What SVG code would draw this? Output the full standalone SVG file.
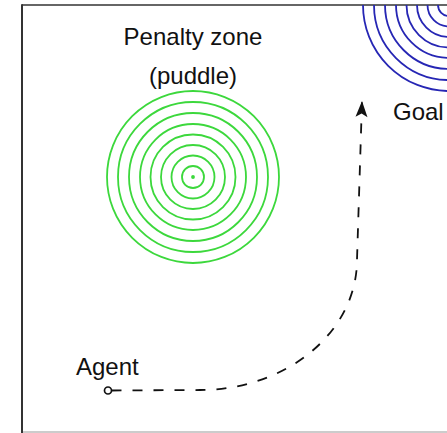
<svg xmlns="http://www.w3.org/2000/svg" width="447" height="433" viewBox="0 0 447 433">
  <style>
    .label { font-family: "Liberation Sans", Arial, sans-serif; font-size: 24px; fill: #111; }
    .puddle circle { fill: none; stroke: #3cd83c; stroke-width: 1.8; }
    .goal circle { fill: none; stroke: #2626b4; stroke-width: 1.8; }
    .path { fill: none; stroke: #111; stroke-width: 1.8; stroke-dasharray: 10 11; }
  </style>
  <defs>
    <clipPath id="field">
      <rect x="22" y="5" width="440" height="427"/>
    </clipPath>
    <marker id="head" viewBox="0 0 16 12" markerUnits="userSpaceOnUse" markerWidth="16" markerHeight="12" refX="16" refY="6" orient="auto" overflow="visible">
      <path d="M0,0 L16,6 L0,12 L3.5,6 z" fill="#111"/>
    </marker>
  </defs>

  <rect width="447" height="433" fill="#fff"/>

  <!-- field frame -->
  <g id="frame">
    <line x1="22" y1="432" x2="447" y2="432" stroke="#999" stroke-width="1.2"/>
    <line x1="22" y1="5" x2="447" y2="5" stroke="#333" stroke-width="1.6"/>
    <line x1="22" y1="4.2" x2="22" y2="433" stroke="#333" stroke-width="2"/>
  </g>

  <!-- penalty zone -->
  <g id="puddle" class="puddle">
    <circle cx="193" cy="177" r="86"/>
    <circle cx="193" cy="177" r="75"/>
    <circle cx="193" cy="177" r="64"/>
    <circle cx="193" cy="177" r="53"/>
    <circle cx="193" cy="177" r="42.5"/>
    <circle cx="193" cy="177" r="32"/>
    <circle cx="193" cy="177" r="21.5"/>
    <circle cx="193" cy="177" r="11"/>
    <circle cx="193" cy="177" r="1" fill="#3cd83c"/>
    <text class="label" x="193" y="45" text-anchor="middle">Penalty zone</text>
    <text class="label" x="193" y="84" text-anchor="middle">(puddle)</text>
  </g>

  <!-- goal region -->
  <g id="goal">
    <g class="goal" clip-path="url(#field)">
      <circle cx="449" cy="5" r="86"/>
      <circle cx="449" cy="5" r="75"/>
      <circle cx="449" cy="5" r="64"/>
      <circle cx="449" cy="5" r="53"/>
      <circle cx="449" cy="5" r="42.5"/>
      <circle cx="449" cy="5" r="32"/>
      <circle cx="449" cy="5" r="21.5"/>
      <circle cx="449" cy="5" r="11"/>
    </g>
    <text class="label" x="393" y="120">Goal</text>
  </g>

  <!-- agent -->
  <g id="agent">
    <text class="label" x="76" y="375">Agent</text>
    <circle cx="108" cy="390.5" r="3.5" fill="#fff" stroke="#111" stroke-width="1.7"/>
  </g>

  <!-- trajectory -->
  <g id="connectors">
    <path class="path" d="M111.5,390.5 L200,390 A157,130 0 0 0 357,260 L362,101" marker-end="url(#head)"/>
  </g>
</svg>
